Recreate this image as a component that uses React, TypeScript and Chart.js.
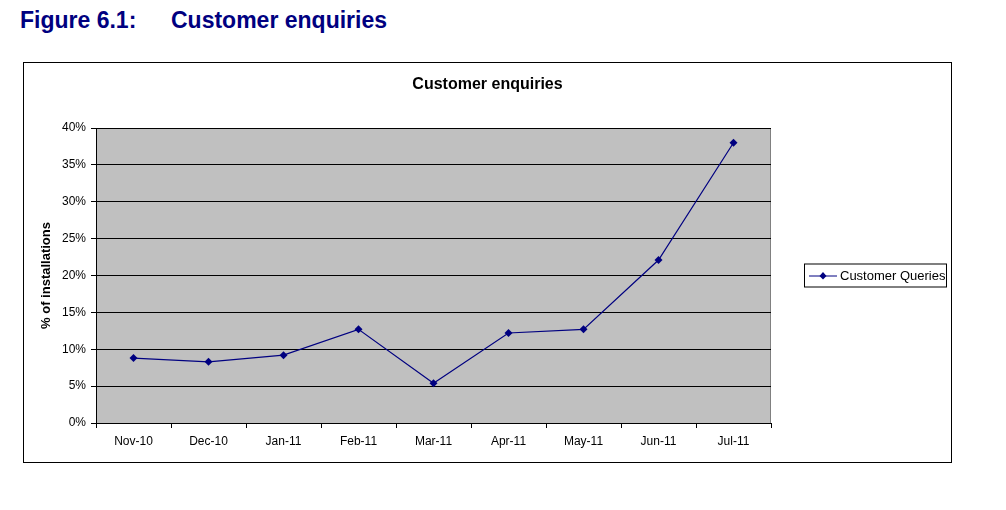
import { useEffect, useRef } from "react";
import { Chart, registerables } from "chart.js";

Chart.register(...registerables);

const months = [
  "Nov-10",
  "Dec-10",
  "Jan-11",
  "Feb-11",
  "Mar-11",
  "Apr-11",
  "May-11",
  "Jun-11",
  "Jul-11",
];
const customerQueries = [8.8, 8.3, 9.2, 12.7, 5.4, 12.2, 12.7, 22.1, 38.0];
const seriesName = "Customer Queries";
const chartTitle = "Customer enquiries";
const yAxisTitle = "% of installations";

const NAVY = "#000080";
const FONT = "Arial, 'Liberation Sans', sans-serif";

// gris de fond de la zone de tracé
const plotBackground = {
  id: "plotBackground",
  beforeDraw(chart: any) {
    const { ctx, chartArea } = chart;
    ctx.save();
    ctx.fillStyle = "#C0C0C0";
    ctx.fillRect(
      chartArea.left,
      chartArea.top,
      chartArea.right - chartArea.left,
      chartArea.bottom - chartArea.top
    );
    ctx.strokeStyle = "#808080";
    ctx.lineWidth = 1;
    ctx.strokeRect(
      chartArea.left + 0.5,
      chartArea.top + 0.5,
      chartArea.right - chartArea.left - 1,
      chartArea.bottom - chartArea.top
    );
    ctx.restore();
  },
};

// titre centré sur toute la largeur du cadre (pas seulement la zone de tracé)
const centeredTitle = {
  id: "centeredTitle",
  afterDraw(chart: any) {
    const { ctx } = chart;
    ctx.save();
    ctx.fillStyle = "#000";
    ctx.font = `bold 16px ${FONT}`;
    ctx.textAlign = "center";
    ctx.textBaseline = "middle";
    ctx.fillText(chartTitle, chart.width / 2, 22);
    ctx.restore();
  },
};

// légende encadrée : trait + losange + texte
const boxedLegend = {
  id: "boxedLegend",
  afterDraw(chart: any) {
    const { ctx, chartArea } = chart;
    const x = chartArea.right + 33;
    const cy = (chartArea.top + chartArea.bottom) / 2;
    const w = 142;
    const h = 23;
    ctx.save();
    ctx.strokeStyle = "#000";
    ctx.lineWidth = 1;
    ctx.strokeRect(x + 0.5, cy - h / 2, w, h);
    ctx.strokeStyle = NAVY;
    ctx.beginPath();
    ctx.moveTo(x + 5, cy + 0.5);
    ctx.lineTo(x + 33, cy + 0.5);
    ctx.stroke();
    ctx.fillStyle = NAVY;
    ctx.beginPath();
    ctx.moveTo(x + 19, cy - 3.5);
    ctx.lineTo(x + 22.5, cy + 0.5);
    ctx.lineTo(x + 19, cy + 4);
    ctx.lineTo(x + 15.5, cy + 0.5);
    ctx.closePath();
    ctx.fill();
    ctx.fillStyle = "#000";
    ctx.font = `13px ${FONT}`;
    ctx.textBaseline = "middle";
    ctx.fillText(seriesName, x + 36, cy + 1);
    ctx.restore();
  },
};

function EnquiriesChart() {
  const canvasRef = useRef<HTMLCanvasElement>(null);
  const chartInstance = useRef<Chart<"line"> | null>(null);

  useEffect(() => {
    if (!canvasRef.current) return;
    if (chartInstance.current) chartInstance.current.destroy();

    const ctx = canvasRef.current.getContext("2d");
    if (!ctx) return;

    chartInstance.current = new Chart(ctx, {
      type: "line",
      data: {
        labels: months,
        datasets: [
          {
            label: seriesName,
            data: customerQueries,
            borderColor: NAVY,
            backgroundColor: NAVY,
            borderWidth: 1.2,
            pointStyle: "rectRot",
            pointRadius: 4,
            pointBorderWidth: 0,
            tension: 0,
          },
        ],
      },
      options: {
        responsive: false,
        animation: false,
        layout: { padding: { top: 65, right: 180, bottom: 0, left: 0 } },
        plugins: {
          legend: { display: false },
          tooltip: { enabled: false },
          title: { display: false },
        },
        scales: {
          x: {
            offset: true,
            grid: {
              offset: true,
              drawOnChartArea: false,
              color: "#000",
              tickLength: 5,
            },
            border: { color: "#000", width: 1 },
            ticks: {
              color: "#000",
              font: { family: FONT, size: 12 },
              padding: 6,
              maxRotation: 0,
            },
            afterFit: (scale: any) => {
              scale.height = 39;
            },
          },
          y: {
            min: 0,
            max: 40,
            grid: { color: "#000", tickLength: 5 },
            border: { color: "#000", width: 1 },
            ticks: {
              stepSize: 5,
              color: "#000",
              font: { family: FONT, size: 12 },
              padding: 5,
              callback: (v: any) => v + "%",
            },
            title: {
              display: true,
              text: yAxisTitle,
              color: "#000",
              font: { family: FONT, size: 13, weight: "bold" },
              padding: { top: 15, bottom: 0 },
            },
            afterFit: (scale: any) => {
              scale.width = 72;
            },
          },
        },
      },
      plugins: [plotBackground, centeredTitle, boxedLegend],
    });

    return () => {
      if (chartInstance.current) {
        chartInstance.current.destroy();
        chartInstance.current = null;
      }
    };
  }, []);

  return <canvas ref={canvasRef} width={927} height={399} />;
}

export default function App() {
  return (
    <div
      style={{
        position: "relative",
        width: 1006,
        height: 510,
        margin: -8,
        background: "#fff",
        fontFamily: FONT,
      }}
    >
      <div
        style={{
          position: "absolute",
          left: 20,
          top: 7,
          fontSize: 23,
          fontWeight: "bold",
          color: "#000080",
          whiteSpace: "pre",
        }}
      >
        <span>Figure 6.1:</span>
        <span style={{ position: "absolute", left: 151 }}>{chartTitle}</span>
      </div>
      <div
        style={{
          position: "absolute",
          left: 23,
          top: 62,
          width: 927,
          height: 399,
          border: "1px solid #000",
        }}
      >
        <EnquiriesChart />
      </div>
    </div>
  );
}
